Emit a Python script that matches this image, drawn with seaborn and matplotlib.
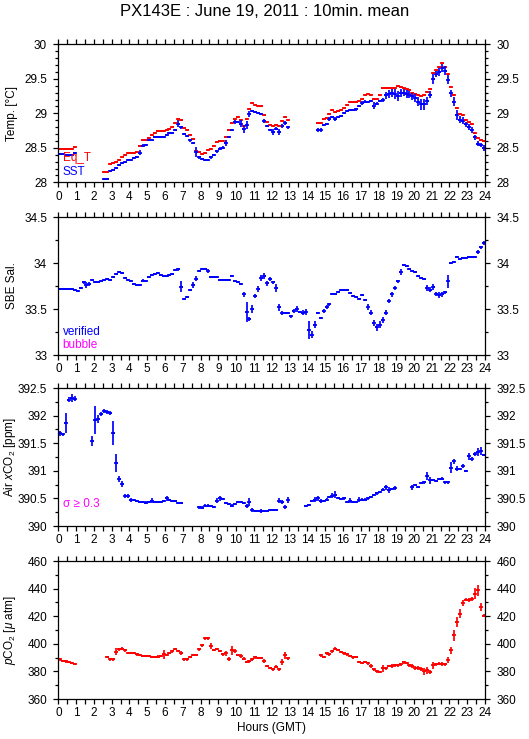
import numpy as np
import pandas as pd
import matplotlib
matplotlib.use("Agg")
import matplotlib.pyplot as plt
import seaborn as sns
from matplotlib.ticker import MultipleLocator, FuncFormatter

N = None
# ---------------- data (10-min means, 144 intervals) ----------------
sst = [28.41, 28.41, 28.40, 28.39, 28.40, 28.42, N, N, N, N, N, N, N, N, N,
       28.05, 28.05, 28.17, 28.18, 28.21, 28.25, 28.28, 28.30, 28.32, 28.33, 28.35,
       28.36, 28.43, 28.53, 28.54, 28.61, 28.62, 28.65, 28.66, 28.66, 28.66, 28.68,
       28.71, 28.72, 28.76, 28.85, 28.80, 28.70, 28.67, 28.61, 28.57, 28.44, 28.36,
       28.34, 28.33, 28.32, 28.36, 28.40, 28.45, 28.49, 28.50, 28.57, 28.66, 28.76,
       28.87, 28.88, 28.85, 28.77, 28.83, 28.99, 29.04, 29.02, 29.01, 28.99, 28.89,
       28.81, 28.76, 28.73, 28.78, 28.73, 28.82, 28.86, 28.80,
       N, N, N, N, N, N, N, N, N,
       28.76, 28.76, 28.83, 28.84, 28.92, 28.95, 28.92, 28.95, 28.96, 29.00, 29.04,
       29.05, 29.05, 29.06, 29.10, 29.15, 29.17, 29.17, 29.18, 29.11, 29.14, 29.18,
       29.19, 29.26, 29.28, 29.29, 29.28, 29.25, 29.29, 29.30, 29.28, 29.27, 29.25,
       29.22, 29.17, 29.13, 29.13, 29.18, 29.27, 29.50, 29.57, 29.60, 29.66, 29.62,
       29.49, 29.29, 29.17, 28.98, 28.91, 28.89, 28.84, 28.80, 28.76, 28.65, 28.56,
       28.54, 28.50]
sst_sd = [0.01, 0.01, 0.01, 0.01, 0.01, 0.015, N, N, N, N, N, N, N, N, N,
          0.01, 0.01, 0.015, 0.01, 0.01, 0.01, 0.01, 0.01, 0.015, 0.01, 0.01,
          0.01, 0.04, 0.02, 0.01, 0.01, 0.01, 0.01, 0.01, 0.01, 0.01, 0.01,
          0.015, 0.01, 0.02, 0.05, 0.02, 0.015, 0.015, 0.02, 0.015, 0.07, 0.02,
          0.01, 0.015, 0.015, 0.015, 0.015, 0.02, 0.015, 0.02, 0.05, 0.015, 0.02,
          0.03, 0.015, 0.05, 0.055, 0.06, 0.04, 0.015, 0.015, 0.015, 0.015, 0.03,
          0.015, 0.02, 0.045, 0.02, 0.045, 0.03, 0.03, 0.02,
          N, N, N, N, N, N, N, N, N,
          0.03, 0.03, 0.015, 0.015, 0.03, 0.015, 0.03, 0.015, 0.015, 0.015, 0.015,
          0.015, 0.015, 0.02, 0.015, 0.03, 0.02, 0.015, 0.02, 0.05, 0.02, 0.02,
          0.03, 0.05, 0.06, 0.06, 0.07, 0.07, 0.06, 0.05, 0.06, 0.05, 0.05,
          0.06, 0.07, 0.08, 0.08, 0.06, 0.05, 0.07, 0.05, 0.06, 0.06, 0.06,
          0.06, 0.05, 0.06, 0.07, 0.05, 0.05, 0.04, 0.04, 0.04, 0.04, 0.04,
          0.03, 0.04]
eqt = [28.49, 28.49, 28.49, 28.49, 28.48, 28.51, N, N, N, N, N, N, N, N, N,
       28.15, 28.15, 28.27, 28.28, 28.30, 28.32, 28.36, 28.40, 28.42, 28.43, 28.43,
       28.44, 28.53, 28.62, 28.61, 28.64, 28.69, 28.71, 28.75, 28.75, 28.75, 28.76,
       28.78, 28.80, 28.86, 28.92, 28.90, 28.79, 28.76, 28.68, 28.63, 28.45, 28.44,
       28.41, 28.43, 28.47, 28.49, 28.53, 28.59, 28.60, 28.60, 28.66, 28.76, 28.86,
       28.92, 28.95, 28.91, 28.82, 28.92, 29.06, 29.15, 29.12, 29.11, 29.10, 28.98,
       28.88, 28.83, 28.82, 28.83, 28.82, 28.89, 28.95, 28.90,
       N, N, N, N, N, N, N, N, N,
       28.86, 28.86, 28.92, 28.93, 28.99, 29.05, 29.02, 29.03, 29.05, 29.08, 29.12,
       29.16, 29.16, 29.16, 29.18, 29.21, 29.26, 29.28, 29.26, 29.21, 29.21, 29.27,
       29.36, 29.37, 29.37, 29.37, 29.37, 29.39, 29.38, 29.37, 29.35, 29.34, 29.30,
       29.28, 29.26, 29.25, 29.27, 29.31, 29.35, 29.59, 29.63, 29.67, 29.73, 29.67,
       29.57, 29.38, 29.26, 29.08, 28.99, 28.97, 28.91, 28.87, 28.84, 28.71, 28.64,
       28.62, 28.60]
sal = [33.72, 33.72, 33.72, 33.72, 33.72, 33.71, 33.70, 33.73, 33.79, 33.76, 33.77,
       33.82, 33.79, 33.79, 33.81, 33.82, 33.83, 33.82, 33.85, 33.88, 33.90, 33.89,
       33.84, 33.82, 33.80, 33.77, 33.76, 33.76, 33.81, 33.80, 33.85, 33.87, 33.88,
       33.89, 33.87, 33.86, 33.86, 33.87, 33.88, 33.92, 33.93, 33.74, 33.61, 33.63,
       33.71, 33.76, 33.83, 33.91, 33.94, 33.94, 33.91, 33.85, 33.85, 33.85, 33.82,
       33.82, 33.82, 33.82, 33.86, 33.80, 33.79, 33.77, 33.66, 33.47, 33.39, 33.50,
       33.64, 33.72, 33.84, 33.86, 33.78, 33.83, 33.79, 33.73, 33.52, 33.46, 33.46,
       33.46, 33.42, 33.48, 33.50, 33.47, 33.46, 33.47, 33.27, 33.22, 33.33, 33.46,
       33.40, 33.48, 33.52, 33.55, 33.66, 33.66, 33.69, 33.71, 33.71, 33.71, 33.67,
       33.64, 33.63, 33.61, 33.65, 33.60, 33.52, 33.46, 33.35, 33.30, 33.33, 33.38,
       33.46, 33.59, 33.66, 33.73, 33.80, 33.90, 33.98, 33.97, 33.94, 33.91, 33.90,
       33.86, 33.84, 33.83, 33.73, 33.71, 33.74, 33.66, 33.65, 33.66, 33.68, 33.80,
       34.00, 34.01, 34.07, 34.04, 34.05, 34.06, 34.07, 34.07, 34.07, 34.12, 34.17,
       34.22]
sal_sd = [0.01, 0.01, 0.01, 0.01, 0.01, 0.01, 0.01, 0.01, 0.02, 0.03, 0.02,
          0.01, 0.01, 0.01, 0.01, 0.01, 0.01, 0.01, 0.01, 0.01, 0.01, 0.01,
          0.01, 0.01, 0.01, 0.01, 0.01, 0.01, 0.02, 0.01, 0.01, 0.01, 0.01,
          0.01, 0.01, 0.01, 0.01, 0.01, 0.01, 0.01, 0.02, 0.06, 0.01, 0.01,
          0.01, 0.03, 0.03, 0.01, 0.01, 0.01, 0.02, 0.01, 0.01, 0.01, 0.01,
          0.01, 0.01, 0.01, 0.01, 0.01, 0.01, 0.01, 0.03, 0.11, 0.02, 0.04,
          0.02, 0.03, 0.03, 0.03, 0.03, 0.02, 0.02, 0.04, 0.04, 0.02, 0.01,
          0.01, 0.02, 0.02, 0.03, 0.01, 0.03, 0.03, 0.10, 0.04, 0.04, 0.01,
          0.01, 0.02, 0.02, 0.02, 0.01, 0.01, 0.01, 0.01, 0.01, 0.01, 0.01,
          0.01, 0.01, 0.01, 0.01, 0.01, 0.03, 0.03, 0.03, 0.04, 0.04, 0.03,
          0.03, 0.02, 0.03, 0.02, 0.02, 0.03, 0.01, 0.01, 0.01, 0.01, 0.01,
          0.01, 0.01, 0.01, 0.03, 0.03, 0.03, 0.02, 0.03, 0.03, 0.02, 0.07,
          0.01, 0.01, 0.01, 0.01, 0.01, 0.01, 0.01, 0.01, 0.01, 0.02, 0.02,
          0.02]
xco2 = [391.68, 391.66, 391.86, 392.29, 392.32, 392.31, N, N, N, N, N,
        391.54, 391.92, 391.94, 392.03, 392.08, 392.07, 392.05, 391.68, 391.14, 390.85,
        390.76, 390.54, 390.54, 390.47, 390.47, 390.46, 390.43, 390.43, 390.42, 390.43,
        390.46, 390.44, 390.43, 390.44, 390.46, 390.50, 390.47, 390.46, 390.46, 390.41,
        390.41, N, N, N, N, N,
        390.34, 390.33, 390.37, 390.37, 390.36, 390.35, 390.46, 390.50, 390.49, 390.42,
        390.40, 390.37, 390.40, 390.43, 390.43, 390.41, 390.36, 390.43, 390.29, 390.27,
        390.27, 390.27, 390.27, 390.27, 390.29, 390.29, 390.29, 390.46, 390.43, 390.34,
        390.47, N, N, N, N, N,
        390.36, 390.38, 390.45, 390.48, 390.50, 390.45, 390.45, 390.48, 390.53, 390.55,
        390.57, 390.51, 390.49, 390.50, 390.44, 390.46, 390.44, 390.44, 390.48, 390.48,
        390.48, 390.50, 390.53, 390.56, 390.59, 390.61, 390.66, 390.70, 390.65, 390.67,
        390.69, N, N, N, N, N,
        390.70, 390.74, 390.71, 390.78, 390.79, 390.91, 390.83, 390.83, 390.81, 390.85,
        390.86, 390.79, 390.79, 391.06, 391.17, 391.04, 391.04, 391.09, 391.00, 391.26,
        391.21, 391.31, 391.34, 391.36, 391.28]
xco2_sd = [0.04, 0.03, 0.18, 0.05, 0.07, 0.04, N, N, N, N, N,
           0.09, 0.26, 0.07, 0.03, 0.04, 0.04, 0.03, 0.22, 0.16, 0.05,
           0.06, 0.04, 0.04, 0.03, 0.02, 0.02, 0.02, 0.02, 0.03, 0.02,
           0.04, 0.02, 0.02, 0.02, 0.02, 0.04, 0.02, 0.02, 0.02, 0.02,
           0.02, N, N, N, N, N,
           0.03, 0.03, 0.02, 0.02, 0.02, 0.02, 0.05, 0.04, 0.02, 0.02,
           0.02, 0.02, 0.02, 0.02, 0.02, 0.02, 0.03, 0.07, 0.04, 0.02,
           0.02, 0.03, 0.02, 0.02, 0.02, 0.02, 0.02, 0.05, 0.04, 0.04,
           0.06, N, N, N, N, N,
           0.02, 0.02, 0.02, 0.04, 0.04, 0.04, 0.02, 0.02, 0.02, 0.05,
           0.06, 0.02, 0.02, 0.02, 0.02, 0.04, 0.02, 0.02, 0.04, 0.02,
           0.02, 0.02, 0.02, 0.02, 0.02, 0.02, 0.02, 0.05, 0.05, 0.02,
           0.03, N, N, N, N, N,
           0.04, 0.02, 0.02, 0.02, 0.02, 0.07, 0.06, 0.02, 0.02, 0.02,
           0.02, 0.02, 0.02, 0.10, 0.05, 0.05, 0.02, 0.04, 0.02, 0.07,
           0.04, 0.04, 0.07, 0.08, 0.02]
pco2 = [388.7, 387.7, 387.2, 386.7, 386.0, 385.1, N, N, N, N, N, N, N, N, N, N,
        390.4, 388.7, 388.7, 394.2, 395.9, 396.6, 395.2, 393.5, 393.5, 393.5, 392.3,
        392.0, 391.1, 391.1, 391.1, 390.6, 390.4, 390.8, 391.1, 392.3, 391.8, 393.5,
        394.5, 396.0, 394.8, 393.5, 388.7, 388.7, 390.6, 392.0, 392.0, 395.9, 398.8,
        403.9, 403.9, 398.3, 395.4, 396.4, 394.9, 392.5, 393.0, 388.7, 395.2, 394.5,
        391.8, 391.1, 389.2, 386.7, 387.2, 388.7, 390.1, 389.9, 389.6, 387.5, 383.9,
        382.4, 381.4, 383.4, 381.4, 386.7, 391.6, 389.6,
        N, N, N, N, N, N, N, N, N, N,
        391.6, 390.4, 393.0, 392.3, 394.5, 396.6, 395.4, 394.2, 393.0, 392.3, 391.1,
        390.1, 390.4, 386.7, 386.3, 386.7, 385.8, 383.9, 381.4, 380.0, 379.5, 382.2,
        382.2, 383.9, 383.9, 384.3, 384.3, 385.1, 386.7, 386.3, 384.3, 383.9, 382.4,
        382.4, 381.9, 380.2, 380.9, 379.5, 384.3, 385.1, 385.5, 385.5, 385.1, 388.2,
        395.4, 406.3, 415.7, 421.9, 429.6, 432.0, 431.8, 432.5, 436.4, 438.8, 426.7,
        420.5]
pco2_sd = [0.8, 0.8, 0.8, 0.8, 0.8, 0.8, N, N, N, N, N, N, N, N, N, N,
           0.8, 1.2, 1.2, 2.5, 1.2, 0.8, 0.8, 0.8, 0.8, 0.8, 0.8,
           0.8, 0.8, 0.8, 0.8, 0.8, 0.8, 0.8, 0.8, 3.5, 0.8, 0.8,
           0.8, 0.8, 0.8, 1.5, 1.2, 1.2, 0.8, 0.8, 0.8, 0.8, 0.8,
           1.2, 0.8, 2.0, 0.8, 0.8, 0.8, 1.2, 2.0, 1.5, 3.5, 1.5,
           0.8, 1.2, 1.2, 0.8, 0.8, 0.8, 0.8, 0.8, 0.8, 1.2, 0.8,
           0.8, 0.8, 1.2, 1.2, 2.0, 2.5, 1.2,
           N, N, N, N, N, N, N, N, N, N,
           1.2, 0.8, 0.8, 0.8, 0.8, 0.8, 0.8, 0.8, 0.8, 0.8, 0.8,
           0.8, 0.8, 0.8, 0.8, 0.8, 0.8, 1.2, 0.8, 1.2, 0.8, 2.5,
           1.2, 0.8, 1.2, 1.2, 1.2, 1.2, 1.2, 0.8, 1.2, 1.2, 1.2,
           1.2, 1.5, 2.5, 2.5, 1.2, 2.5, 1.2, 1.2, 1.5, 1.2, 2.0,
           2.5, 4.0, 3.5, 3.0, 2.0, 1.2, 1.2, 1.2, 4.0, 4.0, 3.0,
           1.0]

hours = [(k + 0.5) / 6.0 for k in range(144)]
hour_ticks = list(range(0, 25))

BLUE = "#0000ff"
RED = "#ff0000"
MAGENTA = "#ff00ff"

# ---------------- styling ----------------
sns.set_theme(style="ticks")
plt.rcParams["font.family"] = ["Liberation Sans", "DejaVu Sans"]
plt.rcParams["mathtext.fontset"] = "custom"
plt.rcParams["mathtext.rm"] = "Liberation Sans"
plt.rcParams["mathtext.it"] = "Liberation Sans:italic"

fig = plt.figure(figsize=(5.29, 7.39), dpi=100)
L, W, H = 0.1103, 0.8066, 0.1867
bottoms = [0.7533, 0.5196, 0.2882, 0.0541]
axes = [fig.add_axes([L, b, W, H]) for b in bottoms]

def to_arr(v):
    return np.array([np.nan if x is None else x for x in v], dtype=float)

def draw(ax, vals, sds, color):
    df = pd.DataFrame({"t": hours, "v": to_arr(vals), "s": to_arr(sds)})
    df = df.dropna(subset=["v"])
    ax.errorbar(df["t"], df["v"], xerr=1.0 / 12.0, yerr=df["s"], fmt="none",
                ecolor=color, elinewidth=1.25, capsize=0)
    sns.scatterplot(data=df, x="t", y="v", marker="_", s=5, color=color,
                    linewidth=1.25, ax=ax, legend=False)

draw(axes[0], eqt, [0.004] * 144, RED)
draw(axes[0], sst, sst_sd, BLUE)
draw(axes[1], sal, sal_sd, BLUE)
draw(axes[2], xco2, xco2_sd, BLUE)
draw(axes[3], pco2, pco2_sd, RED)

specs = [
    (28, 30, 0.5, 0.1, "Temp. [°C]"),
    (33, 34.5, 0.5, 0.25, "SBE Sal."),
    (390, 392.5, 0.5, 0.25, r"Air $x$CO$_2$ [ppm]"),
    (360, 460, 20, 10, r"$p$CO$_2$ [$\mu$ atm]"),
]
fmt = FuncFormatter(lambda v, p: f"{v:g}")
for ax, (lo, hi, maj, mnr, lab) in zip(axes, specs):
    ax.set_xlim(0, 24)
    ax.set_ylim(lo, hi)
    ax.set_xticks(hour_ticks)
    ax.xaxis.set_minor_locator(MultipleLocator(0.5))
    ax.yaxis.set_major_locator(MultipleLocator(maj))
    ax.yaxis.set_minor_locator(MultipleLocator(mnr))
    ax.yaxis.set_major_formatter(fmt)
    ax.tick_params(axis="both", which="both", direction="out", colors="black",
                   labelsize=8.5, width=0.9)
    ax.tick_params(axis="x", which="both", top=True, bottom=True,
                   labeltop=False, labelbottom=True, length=3.6, pad=2.5)
    ax.tick_params(axis="y", which="major", left=True, right=True,
                   labelleft=True, labelright=True, length=3.6, pad=4.5)
    ax.tick_params(axis="y", which="minor", left=True, right=True, length=2.0)
    for sp in ax.spines.values():
        sp.set_visible(True)
        sp.set_color("black")
        sp.set_linewidth(0.9)
    ax.set_facecolor("white")
    ax.set_xlabel("")
    ax.set_ylabel(lab, fontsize=8.5, color="black")
    ax.yaxis.set_label_coords(-0.095, 0.5)

axes[3].set_xlabel("Hours (GMT)", fontsize=8.5, color="black", labelpad=2)

axes[0].text(0.01, 0.177, "Eq_T", color=RED, fontsize=8.5, transform=axes[0].transAxes,
             va="center", ha="left")
axes[0].text(0.01, 0.075, "SST", color=BLUE, fontsize=8.5, transform=axes[0].transAxes,
             va="center", ha="left")
axes[1].text(0.01, 0.169, "verified", color=BLUE, fontsize=8.5, transform=axes[1].transAxes,
             va="center", ha="left")
axes[1].text(0.01, 0.072, "bubble", color=MAGENTA, fontsize=8.5, transform=axes[1].transAxes,
             va="center", ha="left")
axes[2].text(0.01, 0.16, "σ ≥ 0.3", color=MAGENTA, fontsize=8.5, transform=axes[2].transAxes,
             va="center", ha="left")

fig.text(0.5, 0.984, "PX143E : June 19, 2011 : 10min. mean", ha="center", va="center",
         fontsize=12, color="black")

fig.savefig("out.png", dpi=100, facecolor="white")
